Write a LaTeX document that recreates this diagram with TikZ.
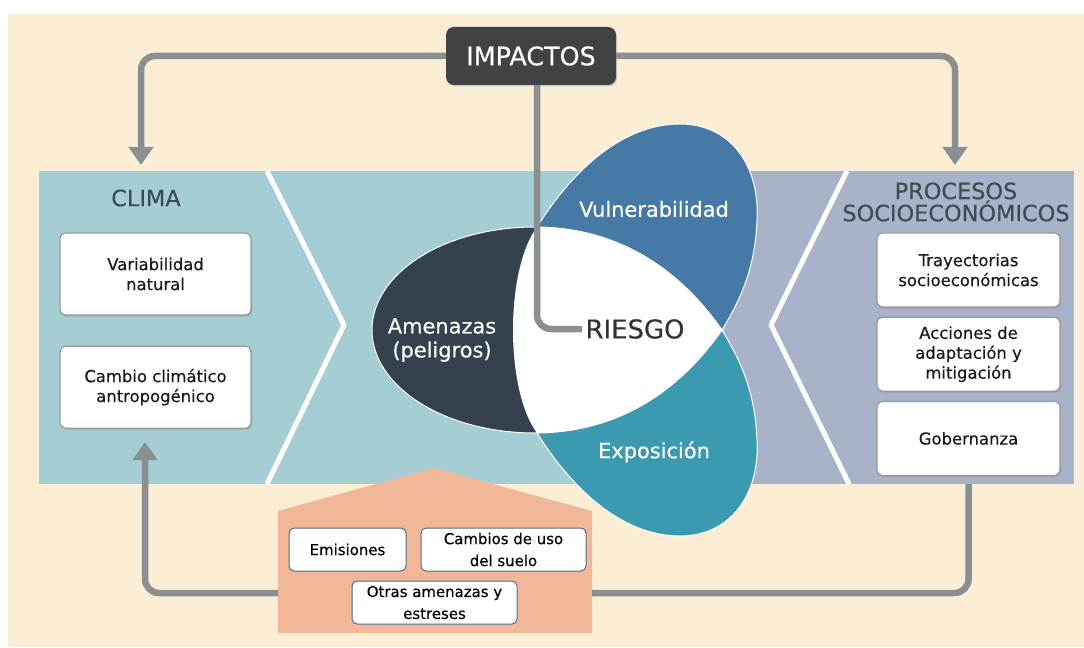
\documentclass[tikz,border=0pt]{standalone}
\usepackage{fontspec}
\setmainfont{DejaVu Sans}[FakeBold=0.35]
\usetikzlibrary{positioning,arrows.meta,calc,shadows}

\definecolor{crema}{HTML}{FCEDD5}
\definecolor{bandaclima}{HTML}{A5CDD4}
\definecolor{bandasocio}{HTML}{A8B2C9}
\definecolor{impgris}{HTML}{3F4345}
\definecolor{flecha}{HTML}{8A9091}
\definecolor{amenaza}{HTML}{35414D}
\definecolor{vulner}{HTML}{4679A6}
\definecolor{expos}{HTML}{3B9AAF}
\definecolor{naranja}{HTML}{F0B898}
\definecolor{titulo}{HTML}{3E4A55}
\definecolor{bordeazul}{HTML}{4F6B8C}

\begin{document}
\begin{tikzpicture}[
  x=1bp, y=-1bp,
  box/.style={draw=black!40, line width=1.2bp, rounded corners=6bp, fill=white,
              align=center, font=\fontsize{16.5}{20}\selectfont, text=black!90,
              minimum width=191bp, minimum height=82bp, inner sep=2bp,
              drop shadow={shadow xshift=1bp, shadow yshift=-1.5bp, opacity=.4}},
  sbox/.style={box, minimum width=183bp, minimum height=74bp},
  fbox/.style={draw=bordeazul, line width=1bp, rounded corners=5bp, fill=white,
               align=center, font=\fontsize{15}{22}\selectfont, inner sep=1bp,
               minimum height=43bp},
  impbox/.style={fill=impgris, text=white, rounded corners=8bp,
                 minimum width=170bp, minimum height=58bp,
                 font=\fontsize{25.5}{25}\selectfont,
                 drop shadow={shadow xshift=1bp, shadow yshift=-1.5bp, opacity=.3}},
  band/.style={font=\fontsize{22.5}{21}\selectfont, text=titulo, align=center},
  lobe/.style={text=white, font=\fontsize{21}{24}\selectfont, align=center},
  conn/.style={flecha, line width=6.5bp, rounded corners=14bp},
  arr/.style={conn, -{Triangle[width=24bp,length=18bp]}},
  chev/.style={white, line width=5bp, line join=round},
  petal/.style={draw=white, line width=1bp},
]
\useasboundingbox (0,0) rectangle (1084,648);
\fill[crema] (8,14) rectangle (1084,647);
\fill[bandaclima] (39,171) rectangle (725,484);
\fill[bandasocio] (725,171) rectangle (1074,484);
\draw[chev] (267,171) -- (344,325) -- (267,484);
\draw[chev] (847,171) -- (771,325) -- (849,484);
\coordinate (bandbot) at (0,484);

\fill[naranja] (278,633) -- (278,511) -- (434,468) -- (592,511) -- (592,633) -- cycle;
\coordinate (pentL) at (278,593);
\coordinate (pentR) at (592,593);

\filldraw[petal, fill=amenaza] (535,330) ellipse [x radius=163bp, y radius=103bp];
\filldraw[petal, fill=vulner] (537,227) .. controls (578,162) and (628,124) .. (680,124)
  .. controls (730,124) and (760,165) .. (757,220)
  .. controls (755,270) and (740,300) .. (722,330)
  .. controls (680,270) and (620,228) .. cycle;
\filldraw[petal, fill=expos] (537,433) .. controls (578,498) and (628,536) .. (680,536)
  .. controls (730,536) and (760,495) .. (757,440)
  .. controls (755,390) and (740,360) .. (722,330)
  .. controls (680,390) and (620,432) .. cycle;
\fill[white] (537,227) .. controls (620,228) and (680,270) .. (722,330)
  .. controls (680,390) and (620,432) .. (537,433)
  .. controls (505,390) and (505,270) .. cycle;

\node[lobe] (amen) at (442,340) {Amenazas\\(peligros)};
\node[lobe] (vul) at (654,209) {Vulnerabilidad};
\node[lobe] (expo) at (654,452) {Exposición};
\node[font=\fontsize{26}{26}\selectfont, text=black!80] (riesgo) at (635,329) {RIESGO};

\node[band] (clima) at (146,198) {CLIMA};
\node[box] (var) at (155.5,274) {Variabilidad\\natural};
\node[box, below=30bp of var] (cambio) {Cambio climático\\antropogénico};

\node[band] (socio) at (956,202) {PROCESOS\\SOCIOECONÓMICOS};
\node[sbox] (tray) at (968.5,270) {Trayectorias\\socioeconómicas};
\node[sbox, below=9bp of tray] (acc) {Acciones de\\adaptación y\\mitigación};
\node[sbox, below=9bp of acc] (gob) {Gobernanza};

\node[fbox, minimum width=117bp] (emis) at (347.5,549.5) {Emisiones};
\node[fbox, minimum width=165bp, right=14bp of emis] (suelo) {Cambios de uso\\del suelo};
\node[fbox, minimum width=165bp] (otras) at (434.5,602.5) {Otras amenazas y\\estreses};

\node[impbox] (imp) at (531,56) {IMPACTOS};
\coordinate (climaTop) at (141,165);
\coordinate (socioTop) at (955,165);
\coordinate (climaBot) at (145,442);

\draw[arr] (imp.west) -| (climaTop);
\draw[arr] (imp.east) -| (socioTop);
\draw[conn] ($(imp.south)+(6,0)$) |- (riesgo.west);
\draw[arr] (pentL) -| (climaBot);
\draw[conn] (gob.south |- bandbot) |- (pentR);
\end{tikzpicture}
\end{document}
